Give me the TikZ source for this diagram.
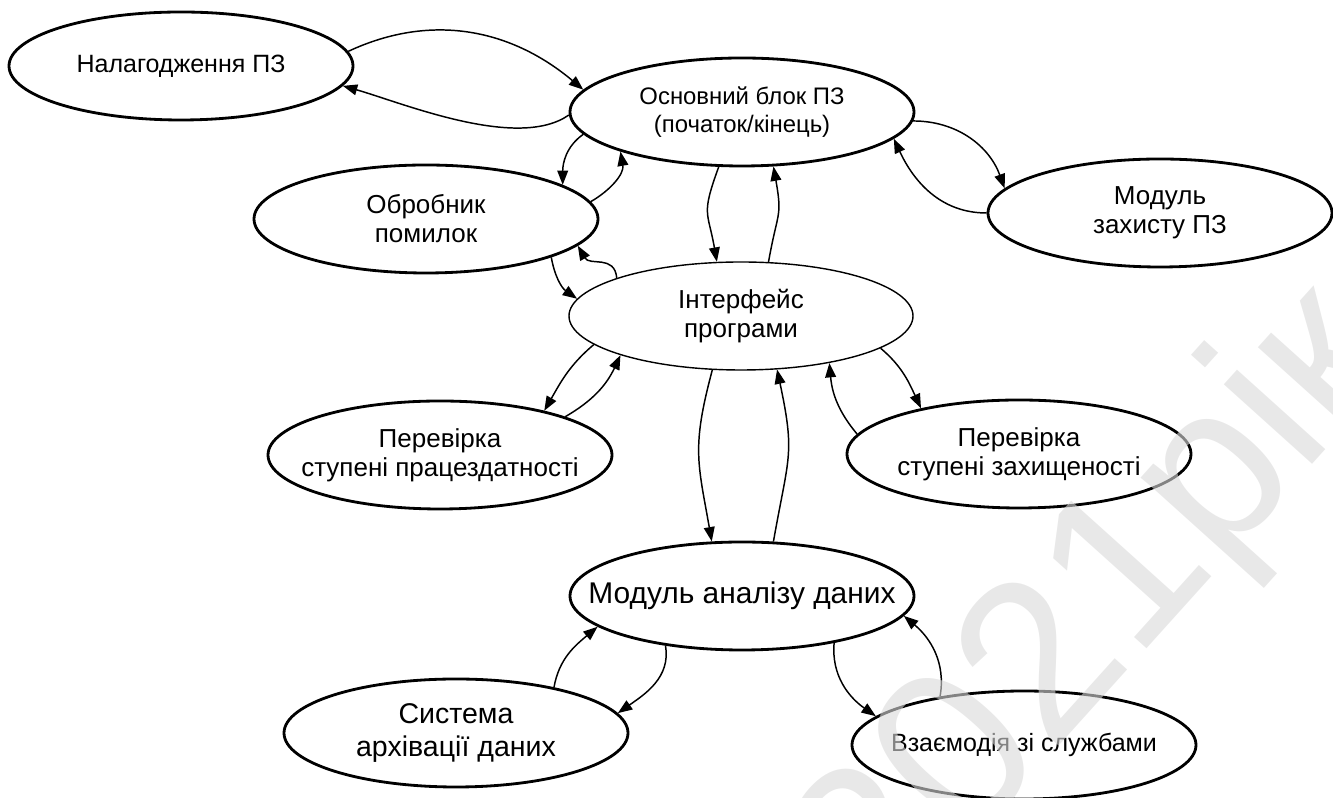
\documentclass[tikz,border=0pt]{standalone}
\usepackage{fontspec}
\setmainfont{Liberation Sans}
\usepackage{tikz}
\usetikzlibrary{arrows.meta,shapes.geometric}
\tikzset{
  proc/.style={ellipse,draw,line width=2pt,minimum width=8.6cm,minimum height=2.7cm,
               inner xsep=-1cm,inner ysep=0pt,align=center,
               font=\fontsize{18.5}{20.5}\selectfont},
  procthin/.style={proc,line width=1pt},
  arrow/.style={-{Triangle[length=3.6mm,width=2.7mm]},line width=1.05pt}
}

\begin{document}
\begin{tikzpicture}
  \useasboundingbox (0,0) rectangle (33.325,19.95);

  % Modules of the program.
  \node[proc,font=\fontsize{17.8}{20}\selectfont] (nal) at (4.525,18.30) {Налагодження ПЗ};
  \node[proc,font=\fontsize{17}{19.4}\selectfont] (osn) at (18.55,17.15)
    {Основний блок ПЗ\\(початок/кінець)};
  \node[proc] (obr) at (10.65,14.475) {Обробник\\помилок};
  \node[proc] (zah) at (29.00,14.625) {Модуль\\захисту ПЗ};
  \node[procthin] (ifc) at (18.525,12.05) {Інтерфейс\\програми};
  \node[proc] (pprc) at (11.00,8.575) {Перевірка\\ступені працездатності};
  \node[proc] (pzah) at (25.475,8.60) {Перевірка\\ступені захищеності};
  \node[proc,font=\fontsize{21.3}{24}\selectfont] (anl) at (18.55,5.05) {Модуль аналізу даних};
  \node[proc,font=\fontsize{20.3}{23.5}\selectfont] (arh) at (11.40,1.625)
    {Система\\архівації даних};
  \node[proc,font=\fontsize{17.8}{20}\selectfont] (vzm) at (25.60,1.325) {Взаємодія зі службами};

  % Paired links between the modules.
  \draw[arrow] (nal.5) to[out=25,in=140] (osn.172);
  \draw[arrow] (osn.181) to[out=215,in=-16,looseness=.7] (nal.-7);
  \draw[arrow] (osn.188) to[out=215,in=90] (obr.14);
  \draw[arrow] (obr.6) to[out=30,in=-80] (osn.198);
  \draw[arrow] (osn.247) to[out=250,in=100,looseness=1.4] (ifc.114);
  \draw[arrow] (ifc.63) to[out=80,in=-80,looseness=1.4] (osn.-60);
  \draw[arrow] (osn.-3) to[out=0,in=110] (zah.171);
  \draw[arrow] (zah.180) to[out=180,in=-65] (osn.-10);
  \draw[arrow] (obr.-17) to[out=-80,in=145] (ifc.174);
  \draw[arrow] (ifc.163) to[out=95,in=-60,looseness=1.2] (obr.-10);
  \draw[arrow] (ifc.191) to[out=220,in=60] (pprc.23);
  \draw[arrow] (pprc.17) to[out=30,in=245] (ifc.198);
  \draw[arrow] (ifc.242) to[out=255,in=100,looseness=1.2] (anl.119);
  \draw[arrow] (anl.60) to[out=80,in=-78,looseness=1.3] (ifc.-56);
  \draw[arrow] (pzah.173) to[out=130,in=-85] (ifc.-28);
  \draw[arrow] (ifc.-13) to[out=-40,in=115] (pzah.155);
  \draw[arrow] (arh.25) to[out=80,in=220] (anl.192);
  \draw[arrow] (anl.213) to[out=-80,in=35] (arh.7);
  \draw[arrow] (anl.-27) to[out=-95,in=145] (vzm.169);
  \draw[arrow] (vzm.150) to[out=80,in=-40] (anl.-7);

  % Watermark over the drawing.
  \node[rotate=48,text=gray!30,opacity=.6,font=\fontsize{160}{160}\selectfont] (wm)
    at (27.5,4.6) {2021рік};
\end{tikzpicture}
\end{document}
